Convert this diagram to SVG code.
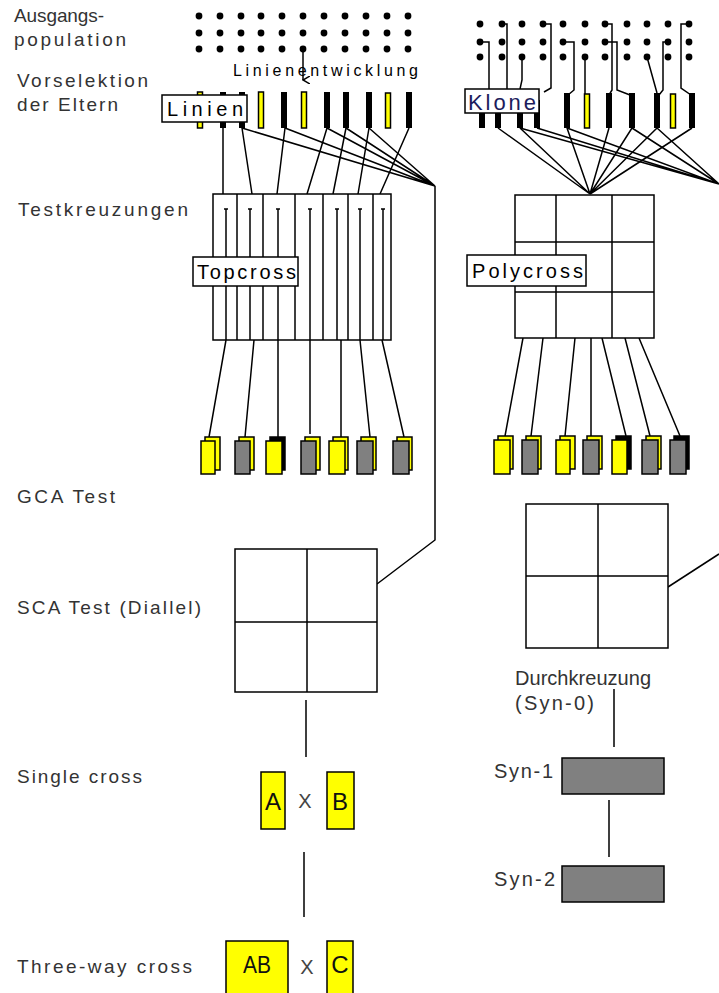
<svg xmlns="http://www.w3.org/2000/svg" xmlns:xlink="http://www.w3.org/1999/xlink" width="719" height="993" viewBox="0 0 719 993">
<style>
.lbl{font-family:"Liberation Sans",Arial,sans-serif;font-size:19px;fill:#333}
.lbl2{font-family:"Liberation Sans",Arial,sans-serif;font-size:20px;fill:#333}
.bt{font-family:"Liberation Sans",Arial,sans-serif;font-size:20px;fill:#000}
.let{font-family:"Liberation Sans",Arial,sans-serif;font-size:24px;fill:#111;text-anchor:middle}
.xx{font-family:"Liberation Sans",Arial,sans-serif;font-size:20px;fill:#444;text-anchor:middle}
.ln{stroke:#000;stroke-width:1.5;fill:none}
.fr{fill:#fff;stroke:#000;stroke-width:1.5}
.y{fill:#ff0;stroke:#000;stroke-width:1.5}
.g{fill:#808080;stroke:#000;stroke-width:1.5}
.k{fill:#000;stroke:#000;stroke-width:1.5}
.bar{fill:#000}
</style>
<defs>
<circle id="d" r="3.4" fill="#000"/>
<marker id="ah" markerWidth="8" markerHeight="8" refX="4" refY="7" orient="auto-start-reverse" markerUnits="userSpaceOnUse"><path d="M0,0 L4,7 L8,0" fill="none" stroke="#000" stroke-width="1.5"/></marker>
</defs>

<g id="labels">
<text class="lbl" x="14" y="22" textLength="90" lengthAdjust="spacing">Ausgangs-</text>
<text class="lbl" x="14" y="46" textLength="112" lengthAdjust="spacing">population</text>
<text class="lbl" x="17" y="87" textLength="131" lengthAdjust="spacing">Vorselektion</text>
<text class="lbl" x="17" y="111" textLength="101" lengthAdjust="spacing">der Eltern</text>
<text class="lbl" x="18" y="216" textLength="170" lengthAdjust="spacing">Testkreuzungen</text>
<text class="lbl" x="17" y="503" textLength="98" lengthAdjust="spacing">GCA Test</text>
<text class="lbl" x="17" y="614" textLength="184" lengthAdjust="spacing">SCA Test (Diallel)</text>
<text class="lbl" x="17" y="783" textLength="125" lengthAdjust="spacing">Single cross</text>
<text class="lbl" x="17" y="973" textLength="175" lengthAdjust="spacing">Three-way cross</text>
</g>

<g id="population-left">
<use xlink:href="#d" x="199" y="16"/><use xlink:href="#d" x="220" y="16"/><use xlink:href="#d" x="241" y="16"/><use xlink:href="#d" x="261" y="16"/><use xlink:href="#d" x="282" y="16"/><use xlink:href="#d" x="303" y="16"/><use xlink:href="#d" x="324" y="16"/><use xlink:href="#d" x="345" y="16"/><use xlink:href="#d" x="366" y="16"/><use xlink:href="#d" x="387" y="16"/><use xlink:href="#d" x="408" y="16"/>
<use xlink:href="#d" x="199" y="33"/><use xlink:href="#d" x="220" y="33"/><use xlink:href="#d" x="241" y="33"/><use xlink:href="#d" x="261" y="33"/><use xlink:href="#d" x="282" y="33"/><use xlink:href="#d" x="303" y="33"/><use xlink:href="#d" x="324" y="33"/><use xlink:href="#d" x="345" y="33"/><use xlink:href="#d" x="366" y="33"/><use xlink:href="#d" x="387" y="33"/><use xlink:href="#d" x="408" y="33"/>
<use xlink:href="#d" x="199" y="49"/><use xlink:href="#d" x="220" y="49"/><use xlink:href="#d" x="241" y="49"/><use xlink:href="#d" x="261" y="49"/><use xlink:href="#d" x="282" y="49"/><use xlink:href="#d" x="303" y="49"/><use xlink:href="#d" x="324" y="49"/><use xlink:href="#d" x="345" y="49"/><use xlink:href="#d" x="366" y="49"/><use xlink:href="#d" x="387" y="49"/><use xlink:href="#d" x="408" y="49"/>
<text x="233" y="76" font-family="Liberation Sans, Arial, sans-serif" font-size="16" fill="#000" textLength="185" lengthAdjust="spacing">Linienentwicklung</text>
</g>

<g id="population-right">
<use xlink:href="#d" x="480" y="24"/><use xlink:href="#d" x="502" y="24"/><use xlink:href="#d" x="522" y="24"/><use xlink:href="#d" x="543" y="24"/><use xlink:href="#d" x="563" y="24"/><use xlink:href="#d" x="585" y="24"/><use xlink:href="#d" x="605" y="24"/><use xlink:href="#d" x="627" y="24"/><use xlink:href="#d" x="647" y="24"/><use xlink:href="#d" x="668" y="24"/><use xlink:href="#d" x="689" y="24"/>
<use xlink:href="#d" x="480" y="42"/><use xlink:href="#d" x="502" y="42"/><use xlink:href="#d" x="522" y="42"/><use xlink:href="#d" x="543" y="42"/><use xlink:href="#d" x="563" y="42"/><use xlink:href="#d" x="585" y="42"/><use xlink:href="#d" x="605" y="42"/><use xlink:href="#d" x="627" y="42"/><use xlink:href="#d" x="647" y="42"/><use xlink:href="#d" x="668" y="42"/><use xlink:href="#d" x="689" y="42"/>
<use xlink:href="#d" x="480" y="57"/><use xlink:href="#d" x="502" y="57"/><use xlink:href="#d" x="522" y="57"/><use xlink:href="#d" x="543" y="57"/><use xlink:href="#d" x="563" y="57"/><use xlink:href="#d" x="585" y="57"/><use xlink:href="#d" x="605" y="57"/><use xlink:href="#d" x="627" y="57"/><use xlink:href="#d" x="647" y="57"/><use xlink:href="#d" x="668" y="57"/><use xlink:href="#d" x="689" y="57"/>
</g>

<g id="connectors" class="ln">
<path d="M303,50 V80" marker-end="url(#ah)"/>
<path d="M223,128 L223,194 M242,128 L252,194 M285,128 L277,194 M327,128 L307,194 M346,128 L333,194 M369,128 L358,194 M409,128 L380,194"/>
<path d="M242,128 L435,186 M285,128 L435,186 M327,128 L435,186 M346,128 L435,186 M369,128 L435,186"/>
<path d="M435,186 V540 L377,584"/>
<path d="M226,340 L209,437 M254,340 L245,437 M278,340 L278,437 M310,340 L310,434 M341,340 L341,437 M360,340 L370,437 M382,340 L404,437"/>
<path d="M483,42 H489 V89 M502,24 H507 V89 M522,57 V80 L520,89 M545,24 H551 V88 L544,92 M565,42 H574 V90 L568,95 M585,57 V95 M605,24 H612 V90 L609,95 M605,42 H617 V90 L630,95 M647,57 L657,93 M668,42 H663 V90 L659,95 M689,24 H681 V88 L691,95"/>
<path d="M498,128 L590,194 M520,128 L590,194 M567,128 L590,194 M609,128 L590,194 M632,128 L590,194 M657,128 L590,194 M692,128 L590,194"/>
<path d="M520,128 L719,184 M537,128 L719,184 M567,128 L719,184 M632,128 L719,184 M657,128 L719,184"/>
<path d="M668,587 L719,554"/>
<path d="M523,338 L505,436 M543,338 L531,436 M575,338 L565,436 M591,338 L591,436 M602,338 L626,436 M625,338 L650,436 M639,338 L680,436"/>
<path d="M306,700 V757 M304,852 V917 M614,689 V747 M609,800 V857"/>
</g>

<g id="lines-left">
<rect class="y" x="197.5" y="92" width="5" height="36"/>
<rect class="bar" x="220" y="92" width="6" height="36"/>
<rect class="bar" x="239" y="92" width="6" height="36"/>
<rect class="y" x="258.5" y="92" width="5" height="36"/>
<rect class="bar" x="281" y="92" width="6" height="36"/>
<rect class="y" x="301.5" y="92" width="5" height="36"/>
<rect class="bar" x="324" y="92" width="6" height="36"/>
<rect class="bar" x="343" y="92" width="6" height="36"/>
<rect class="bar" x="366" y="92" width="6" height="36"/>
<rect class="y" x="385.5" y="93" width="5" height="35"/>
<rect class="bar" x="406" y="92" width="6" height="36"/>
</g>
<g id="linien">
<rect class="fr" x="162" y="95" width="85" height="27"/>
<text class="bt" x="167" y="116" textLength="76" lengthAdjust="spacing">Linien</text>
</g>

<g id="clones-right">
<rect class="bar" x="479" y="100" width="6" height="28"/>
<rect class="bar" x="495" y="100" width="6" height="28"/>
<rect class="bar" x="517" y="100" width="6" height="28"/>
<rect class="bar" x="534" y="100" width="6" height="28"/>
<rect class="bar" x="564" y="93" width="6" height="35"/>
<rect class="y" x="584.5" y="94" width="5" height="34"/>
<rect class="bar" x="606" y="93" width="6" height="35"/>
<rect class="bar" x="629" y="93" width="6" height="35"/>
<rect class="bar" x="654" y="93" width="6" height="35"/>
<rect class="y" x="670.5" y="94" width="5" height="34"/>
<rect class="bar" x="689" y="93" width="6" height="35"/>
</g>
<g id="klone">
<rect class="fr" x="465" y="89" width="74" height="24"/>
<text x="468" y="110" font-family="Liberation Sans, Arial, sans-serif" font-size="22" fill="#1c1c5c" textLength="68" lengthAdjust="spacing">Klone</text>
</g>

<g id="topcross">
<rect class="fr" x="213" y="194" width="178" height="146"/>
<path class="ln" d="M237,194 V340 M263,194 V340 M295,194 V340 M323,194 V340 M348,194 V340 M373,194 V340"/>
<path class="ln" d="M226,340 V209 M224,209 H228 M250,340 V209 M248,209 H252 M278,340 V209 M276,209 H280 M310,340 V209 M308,209 H312 M337,340 V209 M335,209 H339 M360,340 V209 M358,209 H362 M383,340 V209 M381,209 H385"/>
<rect class="fr" x="193" y="257" width="105" height="29"/>
<text class="bt" x="197" y="279" textLength="99" lengthAdjust="spacing">Topcross</text>
</g>

<g id="polycross">
<rect class="fr" x="515" y="195" width="139" height="143"/>
<path class="ln" d="M556,195 V338 M612,195 V338 M515,242 H654 M515,292 H654"/>
<rect class="fr" x="467" y="255" width="119" height="31"/>
<text class="bt" x="472" y="278" textLength="111" lengthAdjust="spacing">Polycross</text>
</g>

<g id="seeds-left">
<rect class="y" x="205" y="437" width="15" height="33"/><rect class="y" x="201" y="441" width="14" height="33"/>
<rect class="y" x="239" y="437" width="15" height="33"/><rect class="g" x="235" y="441" width="15" height="33"/>
<rect class="k" x="270" y="437" width="15" height="33"/><rect class="y" x="266" y="441" width="16" height="33"/>
<rect class="y" x="305" y="437" width="15" height="33"/><rect class="g" x="301" y="441" width="15" height="33"/>
<rect class="y" x="333" y="437" width="15" height="33"/><rect class="y" x="329" y="441" width="16" height="33"/>
<rect class="y" x="361" y="437" width="15" height="33"/><rect class="g" x="357" y="441" width="16" height="33"/>
<rect class="y" x="397" y="437" width="15" height="33"/><rect class="g" x="393" y="441" width="16" height="33"/>
</g>

<g id="seeds-right">
<rect class="y" x="498" y="436" width="15" height="33"/><rect class="y" x="494" y="440" width="16" height="34"/>
<rect class="y" x="526" y="436" width="15" height="33"/><rect class="g" x="522" y="440" width="16" height="34"/>
<rect class="y" x="560" y="436" width="15" height="33"/><rect class="y" x="556" y="440" width="14" height="34"/>
<rect class="y" x="587" y="436" width="15" height="33"/><rect class="g" x="583" y="440" width="16" height="34"/>
<rect class="k" x="616" y="436" width="15" height="33"/><rect class="y" x="612" y="440" width="15" height="34"/>
<rect class="y" x="646" y="436" width="15" height="33"/><rect class="g" x="642" y="440" width="16" height="34"/>
<rect class="k" x="674" y="436" width="15" height="33"/><rect class="g" x="670" y="440" width="16" height="34"/>
</g>

<g id="sca-diallel">
<rect class="fr" x="235" y="549" width="142" height="143"/>
<path class="ln" d="M307,549 V692 M235,622 H377"/>
</g>

<g id="gca-right">
<rect class="fr" x="526" y="504" width="142" height="144"/>
<path class="ln" d="M598,504 V648 M526,576 H668"/>
</g>

<g id="durchkreuzung">
<text class="lbl2" x="515" y="685" textLength="136" lengthAdjust="spacing">Durchkreuzung</text>
<text class="lbl2" x="515" y="710" textLength="79" lengthAdjust="spacing">(Syn-0)</text>
</g>

<g id="syn1">
<text class="lbl2" x="494" y="778" textLength="59" lengthAdjust="spacing">Syn-1</text>
<rect class="g" x="562" y="758" width="102" height="36"/>
</g>
<g id="syn2">
<text class="lbl2" x="494" y="886" textLength="61" lengthAdjust="spacing">Syn-2</text>
<rect class="g" x="562" y="866" width="102" height="36"/>
</g>

<g id="single-cross">
<rect class="y" x="261" y="772" width="24" height="57"/>
<text class="let" x="273" y="810">A</text>
<text class="xx" x="305" y="808">X</text>
<rect class="y" x="327" y="772" width="27" height="57"/>
<text class="let" x="340" y="810">B</text>
</g>

<g id="three-way-cross">
<rect class="y" x="226" y="941" width="62" height="60"/>
<text class="let" x="257" y="973" textLength="28" lengthAdjust="spacingAndGlyphs">AB</text>
<text class="xx" x="307" y="974">X</text>
<rect class="y" x="327" y="941" width="26" height="60"/>
<text class="let" x="340" y="973">C</text>
</g>
</svg>
